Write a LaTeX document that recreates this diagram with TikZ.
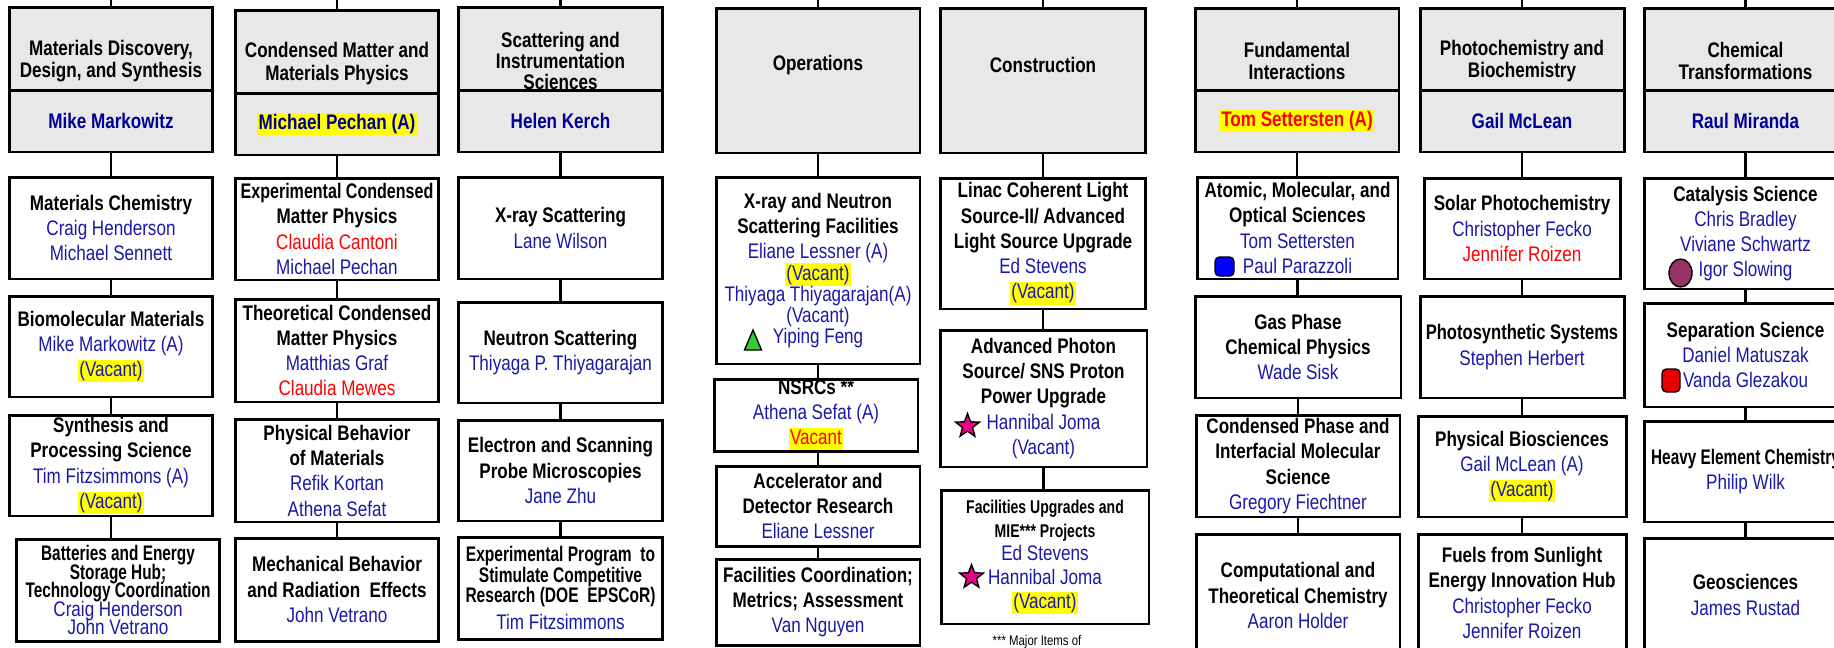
\documentclass[tikz,border=0pt]{standalone}
\usepackage{fontspec}
\setmainfont{Liberation Sans}[FakeStretch=0.81]
\usepackage{graphicx}
\usetikzlibrary{shapes.geometric}
\definecolor{hdrgray}{RGB}{232,232,232}
\definecolor{nmblue}{RGB}{25,25,165}
\definecolor{hdblue}{RGB}{0,0,150}
\definecolor{nmred}{RGB}{255,0,0}
\definecolor{hly}{RGB}{255,255,0}
\definecolor{trigreen}{RGB}{51,204,51}
\definecolor{dotpurple}{RGB}{153,51,102}
\newcommand{\nm}[1]{{\mdseries\color{nmblue}#1}}
\newcommand{\rd}[1]{{\mdseries\color{nmred}#1}}
\newcommand{\hn}[1]{{\color{hdblue}#1}}
\newcommand{\vac}[1]{{\setlength{\fboxsep}{0.7pt}\colorbox{hly}{\vphantom{()}#1}}}
\newcommand{\sq}[2]{\scalebox{#1}[1]{#2}}
\setlength{\lineskiplimit}{-20pt}

\begin{document}
\begin{tikzpicture}[x=0.02cm,y=-0.02cm,
  secbox/.style={draw,line width=1.7pt,minimum width=4.08cm,align=center,inner xsep=1pt,inner ysep=0pt,
    font=\bfseries\fontsize{12}{14.4}\selectfont},
  hdbox/.style={draw,line width=1.7pt,fill=hdrgray,minimum width=4.08cm,inner sep=0pt,
    font=\bfseries\fontsize{12}{12.6}\selectfont},
  hdtext/.style={align=center,inner sep=0pt,font=\bfseries\fontsize{12}{12.6}\selectfont},
  link/.style={line width=1.3pt},
  badge/.style={draw,line width=0.8pt,inner sep=0pt}]
\useasboundingbox (0,0) rectangle (1834,647);

% headers
\node[hdbox,minimum height=1.66cm] (hA) at (111,48.5) {};
\node[hdtext] (tA) at (111,61) {Materials Discovery,\\Design, and Synthesis};
\node[hdbox,minimum height=1.24cm] (nA) at (111,121) {\hn{Mike Markowitz}};
\node[hdbox,minimum height=1.66cm] (hB) at (337,51.5) {};
\node[hdtext] (tB) at (337,63.5) {Condensed Matter and\\Materials Physics};
\node[hdbox,minimum height=1.24cm] (nB) at (337,124) {\hn{\vac{Michael Pechan (A)}}};
\node[hdbox,minimum width=4.1cm,minimum height=1.66cm] (hC) at (560.5,48.5) {};
\node[hdtext,font=\bfseries\fontsize{12}{12.2}\selectfont] (tC) at (560.5,61) {Scattering and\\Instrumentation\\Sciences};
\node[hdbox,minimum width=4.1cm,minimum height=1.24cm] (nC) at (560.5,121) {\hn{Helen Kerch}};
\node[hdbox,minimum height=2.9cm] (hD) at (818,80.5) {};
\node[hdtext] (tD) at (818,65) {Operations};
\node[hdbox,minimum width=4.1cm,minimum height=2.9cm] (hE) at (1043,80.5) {};
\node[hdtext] (tE) at (1043,65) {Construction};
\node[hdbox,minimum height=1.64cm] (hF) at (1297,49) {};
\node[hdtext] (tF) at (1297,61) {Fundamental\\Interactions};
\node[hdbox,minimum height=1.24cm] (nF) at (1297,121) {\vac{\color{nmred}Tom Settersten (A)}};
\node[hdbox,minimum height=1.64cm] (hG) at (1522,49) {};
\node[hdtext] (tG) at (1522,61) {Photochemistry and\\Biochemistry};
\node[hdbox,minimum height=1.24cm] (nG) at (1522,121) {\hn{Gail McLean}};
\node[hdbox,minimum width=4.06cm,minimum height=1.64cm] (hH) at (1745.5,49) {};
\node[hdtext] (tH) at (1745.5,61) {Chemical\\Transformations};
\node[hdbox,minimum width=4.06cm,minimum height=1.24cm] (nH) at (1745.5,121) {\hn{Raul Miranda}};

% Materials Discovery
\node[secbox,minimum height=2.04cm] (a1) at (111,228) {Materials Chemistry\\\nm{Craig Henderson}\\\nm{Michael Sennett}};
\node[secbox,minimum height=2.02cm] (a2) at (111,346.5) {Biomolecular Materials\\\nm{Mike Markowitz (A)}\\\nm{\vac{(Vacant)}}};
\node[secbox,minimum height=2.02cm] (a3) at (111,465.5) {Synthesis and\\Processing Science\\\nm{Tim Fitzsimmons (A)}\\\nm{\vac{(Vacant)}}};
\node[secbox,minimum height=2.04cm,font=\bfseries\fontsize{12}{10.5}\selectfont] (a4) at (118,590)
  {\sq{0.9}{Batteries and Energy}\\\sq{0.9}{Storage Hub;}\\\sq{0.9}{Technology Coordination}\\\nm{Craig Henderson}\\\nm{John Vetrano}};

% Condensed Matter
\node[secbox,minimum height=2.04cm] (b1) at (337,229) {\sq{0.94}{Experimental Condensed}\\Matter Physics\\\rd{Claudia Cantoni}\\\nm{Michael Pechan}};
\node[secbox,minimum height=2.06cm] (b2) at (337,350.5) {Theoretical Condensed\\Matter Physics\\\nm{Matthias Graf}\\\rd{Claudia Mewes}};
\node[secbox,minimum height=2.06cm] (b3) at (337,470.5) {Physical Behavior\\of Materials\\\nm{Refik Kortan}\\\nm{Athena Sefat}};
\node[secbox,minimum height=2.06cm] (b4) at (337,589.5) {Mechanical Behavior\\and Radiation\ \ Effects\\\nm{John Vetrano}};

% Scattering
\node[secbox,minimum width=4.1cm,minimum height=2.04cm] (c1) at (560.5,228) {X-ray Scattering\\\nm{Lane Wilson}};
\node[secbox,minimum width=4.1cm,minimum height=2.02cm] (c2) at (560.5,352.5) {Neutron Scattering\\\nm{Thiyaga P. Thiyagarajan}};
\node[secbox,minimum width=4.1cm,minimum height=2.02cm] (c3) at (560.5,470.5) {Electron and Scanning\\Probe Microscopies\\\nm{Jane Zhu}};
\node[secbox,minimum width=4.1cm,minimum height=2.04cm,font=\bfseries\fontsize{12}{11.7}\selectfont] (c4) at (560.5,588)
  {\sq{0.91}{Experimental Program\ \ to}\\\sq{0.91}{Stimulate Competitive}\\\sq{0.91}{Research (DOE\ \ EPSCoR)}\\[3.5pt]\nm{Tim Fitzsimmons}};

% Operations
\node[secbox,minimum height=3.74cm] (d1) at (818,270.5) {X-ray and Neutron\\Scattering Facilities\\\nm{Eliane Lessner (A)}\\[-2.3pt]\nm{\vac{(Vacant)}}\\[-2.3pt]\nm{Thiyaga Thiyagarajan(A)}\\[-2.3pt]\nm{(Vacant)}\\[-2.3pt]\nm{Yiping Feng}};
\node[secbox,minimum height=1.44cm] (d2) at (816,415) {NSRCs **\\\nm{Athena Sefat (A)}\\\vac{\rd{Vacant}}};
\node[secbox,minimum height=1.6cm] (d3) at (818,506) {Accelerator and\\Detector Research\\\nm{Eliane Lessner}};
\node[secbox,minimum height=1.72cm] (d4) at (818,602) {Facilities Coordination;\\Metrics; Assessment\\\nm{Van Nguyen}};

% Construction
\node[secbox,minimum width=4.1cm,minimum height=2.62cm] (e1) at (1043,243.5) {Linac Coherent Light\\Source-II/ Advanced\\Light Source Upgrade\\\nm{Ed Stevens}\\\nm{\vac{(Vacant)}}};
\node[secbox,minimum width=4.14cm,minimum height=2.74cm] (e2) at (1043.5,398.5) {Advanced Photon\\Source/ SNS Proton\\Power Upgrade\\\nm{Hannibal Joma}\\\nm{(Vacant)}};
\node[secbox,minimum width=4.16cm,minimum height=2.68cm,font=\bfseries\fontsize{12}{13.5}\selectfont] (e3) at (1045,557)
  {\sq{0.94}{\fontsize{10.5}{12}\selectfont Facilities Upgrades and}\\\sq{0.94}{\fontsize{10.5}{12}\selectfont MIE*** Projects}\\\nm{Ed Stevens}\\\nm{Hannibal Joma}\\\nm{\vac{(Vacant)}}};
\node[anchor=base,inner sep=0pt,font=\fontsize{8}{9}\selectfont] (fnote) at (1037,645) {*** Major Items of};

% Fundamental Interactions
\node[secbox,minimum width=4.02cm,minimum height=2.04cm] (f1) at (1297.5,228) {Atomic, Molecular, and\\Optical Sciences\\\nm{Tom Settersten}\\\nm{Paul Parazzoli}};
\node[secbox,minimum width=4.12cm,minimum height=2.04cm] (f2) at (1298,347) {Gas Phase\\Chemical Physics\\\nm{Wade Sisk}};
\node[secbox,minimum height=2.04cm] (f3) at (1298,466) {Condensed Phase and\\Interfacial Molecular\\Science\\\nm{Gregory Fiechtner}};
\node[secbox,minimum height=2.46cm] (f4) at (1298,595.5) {Computational and\\Theoretical Chemistry\\\nm{Aaron Holder}};

% Photochemistry
\node[secbox,minimum width=3.92cm,minimum height=2.02cm] (g1) at (1522,228.5) {Solar Photochemistry\\\nm{Christopher Fecko}\\\rd{Jennifer Roizen}};
\node[secbox,minimum height=2.04cm] (g2) at (1522,347) {\sq{0.97}{Photosynthetic Systems}\\\nm{Stephen Herbert}};
\node[secbox,minimum width=4.16cm,minimum height=2.02cm] (g3) at (1522,466.5) {Physical Biosciences\\\nm{Gail McLean (A)}\\\nm{\vac{(Vacant)}}};
\node[secbox,minimum width=4.16cm,minimum height=2.36cm] (g4) at (1522,593) {Fuels from Sunlight\\Energy Innovation Hub\\\nm{Christopher Fecko}\\\nm{Jennifer Roizen}};

% Chemical Transformations
\node[secbox,minimum width=4.06cm,minimum height=2.22cm] (h1) at (1745.5,233.5) {Catalysis Science\\\nm{Chris Bradley}\\\nm{Viviane Schwartz}\\\nm{Igor Slowing}};
\node[secbox,minimum width=4.06cm,minimum height=2.08cm] (h2) at (1745.5,355) {Separation Science\\\nm{Daniel Matuszak}\\\nm{Vanda Glezakou}};
\node[secbox,minimum width=4.06cm,minimum height=2.02cm] (h3) at (1745.5,471.5) {\sq{0.9}{Heavy Element Chemistry}\\\nm{Philip Wilk}};
\node[secbox,minimum width=4.06cm,minimum height=2.28cm] (h4) at (1745.5,595) {Geosciences\\\nm{James Rustad}};

% lines from above
\coordinate (upA) at (111,0);    \coordinate (upB) at (337,0);
\coordinate (upC) at (560.5,0);  \coordinate (upD) at (818,0);
\coordinate (upE) at (1043,0);   \coordinate (upF) at (1297,0);
\coordinate (upG) at (1522,0);   \coordinate (upH) at (1745.5,0);
\draw[link] (upA) -- (hA.north); \draw[link] (upB) -- (hB.north);
\draw[link] (upC) -- (hC.north); \draw[link] (upD) -- (hD.north);
\draw[link] (upE) -- (hE.north); \draw[link] (upF) -- (hF.north);
\draw[link] (upG) -- (hG.north); \draw[link] (upH) -- (hH.north);

% connectors
\draw[link] (nA.south) -- (a1.north); \draw[link] (a1.south) -- (a2.north);
\draw[link] (a2.south) -- (a3.north); \draw[link] (a3.south) -- (a3.south |- a4.north);
\draw[link] (nB.south) -- (b1.north); \draw[link] (b1.south) -- (b2.north);
\draw[link] (b2.south) -- (b3.north); \draw[link] (b3.south) -- (b4.north);
\draw[link] (nC.south) -- (c1.north); \draw[link] (c1.south) -- (c2.north);
\draw[link] (c2.south) -- (c3.north); \draw[link] (c3.south) -- (c4.north);
\draw[link] (hD.south) -- (d1.north); \draw[link] (d1.south) -- (d1.south |- d2.north);
\draw[link] (d2.south -| d3) -- (d3.north); \draw[link] (d3.south) -- (d4.north);
\draw[link] (hE.south) -- (e1.north); \draw[link] (e1.south) -- (e1.south |- e2.north);
\draw[link] (e2.south) -- (e2.south |- e3.north);
\draw[link] (nF.south) -- (nF.south |- f1.north); \draw[link] (f1.south) -- (f1.south |- f2.north);
\draw[link] (f2.south) -- (f3.north); \draw[link] (f3.south) -- (f4.north);
\draw[link] (nG.south) -- (g1.north); \draw[link] (g1.south) -- (g2.north);
\draw[link] (g2.south) -- (g3.north); \draw[link] (g3.south) -- (g4.north);
\draw[link] (nH.south) -- (h1.north); \draw[link] (h1.south) -- (h2.north);
\draw[link] (h2.south) -- (h3.north); \draw[link] (h3.south) -- (h4.north);

% symbols
\draw[badge,fill=trigreen] (744.5,350) -- (761.5,350) -- (753,330) -- cycle;
\node[badge,star,star points=5,star point ratio=2.4,fill=magenta,minimum size=0.5cm] (starA) at (967.5,426) {};
\node[badge,star,star points=5,star point ratio=2.4,fill=magenta,minimum size=0.5cm] (starB) at (971.5,577) {};
\node[badge,rounded corners=2.5pt,fill=blue,minimum width=0.38cm,minimum height=0.38cm] (sqA) at (1224.5,266.5) {};
\node[badge,ellipse,fill=dotpurple,minimum width=0.46cm,minimum height=0.56cm] (dotA) at (1680.5,273) {};
\node[badge,rounded corners=2.5pt,fill=red!90!black,minimum width=0.36cm,minimum height=0.46cm] (sqB) at (1671,380.5) {};
\end{tikzpicture}
\end{document}
